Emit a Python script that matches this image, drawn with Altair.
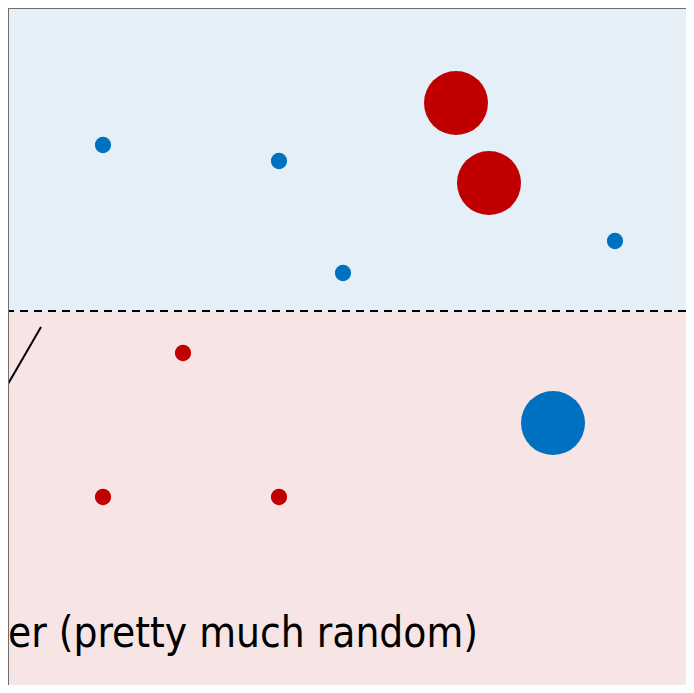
import altair as alt
import pandas as pd

# point data (x, y in plot units; y grows downward)
px = [9.5, 27.1, 33.5, 60.7, 17.5, 9.5, 27.1, 44.8, 48.1, 54.5]
py = [13.7, 15.3, 26.5, 23.3, 34.5, 48.9, 48.9, 9.5, 17.5, 41.5]
pcls = ["blue", "blue", "blue", "blue", "red", "red", "red", "red", "red", "blue"]
pbig = [False, False, False, False, False, False, False, True, True, True]

boundary = 30.3
label = "Weak classifer (pretty much random)"

BLUE = "#0070C0"
RED = "#C00000"

W, H = 678, 677
pts = pd.DataFrame({"x": px, "y": py, "cls": pcls,
                    "sz": [4096 if b else 265 for b in pbig]})
bands = pd.DataFrame({"x": [0, 0], "x2": [W / 10, W / 10],
                      "y": [0, boundary], "y2": [boundary, H / 10],
                      "band": ["blue", "red"]})

xs = alt.Scale(domain=[0, W / 10])
ys = alt.Scale(domain=[0, H / 10], reverse=True)

bg = alt.Chart(bands).mark_rect().encode(
    x=alt.X("x:Q", scale=xs, axis=None), x2="x2",
    y=alt.Y("y:Q", scale=ys, axis=None), y2="y2",
    color=alt.Color("band:N", scale=alt.Scale(domain=["blue", "red"],
                                              range=["#E4EFF8", "#F7E4E4"]), legend=None),
)

dash = alt.Chart(pd.DataFrame({"y": [boundary]})).mark_rule(
    color="black", strokeWidth=2, strokeDash=[8, 6]
).encode(y=alt.Y("y:Q", scale=ys, axis=None))

arrow = alt.Chart(pd.DataFrame({"x": [3.3], "y": [31.9], "x2": [-12.5], "y2": [59.2]})).mark_rule(
    color="black", strokeWidth=2
).encode(x=alt.X("x:Q", scale=xs, axis=None), y=alt.Y("y:Q", scale=ys, axis=None), x2="x2", y2="y2")

txt = alt.Chart(pd.DataFrame({"x": [47.0], "y": [63.9], "t": [label]})).mark_text(
    align="right", baseline="alphabetic", font="DejaVu Sans Condensed", fontSize=42, color="black"
).encode(x=alt.X("x:Q", scale=xs, axis=None), y=alt.Y("y:Q", scale=ys, axis=None), text="t:N")

frame_l = alt.Chart(pd.DataFrame({"x": [0]})).mark_rule(color="#6E6E6E", strokeWidth=2).encode(
    x=alt.X("x:Q", scale=xs, axis=None))
frame_t = alt.Chart(pd.DataFrame({"y": [0]})).mark_rule(color="#6E6E6E", strokeWidth=2).encode(
    y=alt.Y("y:Q", scale=ys, axis=None))

dots = alt.Chart(pts).mark_circle(opacity=1).encode(
    x=alt.X("x:Q", scale=xs, axis=None),
    y=alt.Y("y:Q", scale=ys, axis=None),
    size=alt.Size("sz:Q", scale=None, legend=None),
    color=alt.Color("cls:N", scale=alt.Scale(domain=["blue", "red"], range=[BLUE, RED]), legend=None),
)

chart = alt.layer(bg, dash, arrow, txt, frame_l, frame_t, dots).resolve_scale(color="independent").properties(
    width=W, height=H, padding=0,
    autosize=alt.AutoSizeParams(type="none"),
).configure_view(strokeWidth=0, clip=False)

chart.save("out.html", embed_options={"renderer": "svg", "actions": False})
